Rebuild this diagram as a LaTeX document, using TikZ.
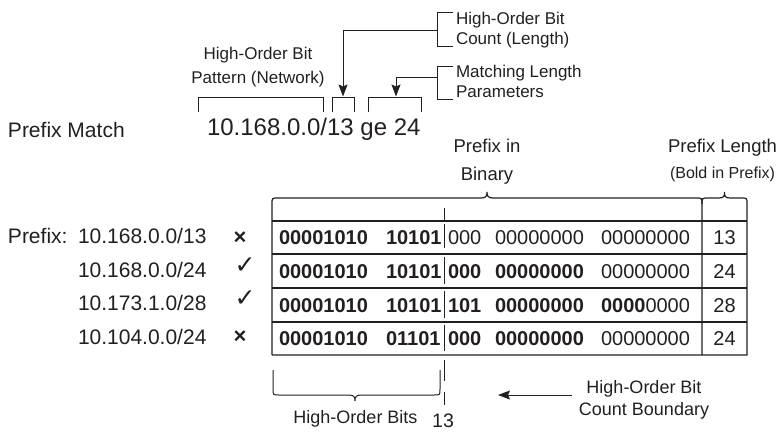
\documentclass[tikz,border=0pt]{standalone}
\usepackage{fontspec}
\setmainfont{Liberation Sans}
\newfontfamily\symfont{DejaVu Sans}
\usetikzlibrary{arrows.meta}
\definecolor{ink}{RGB}{35,31,32}
\begin{document}
\begin{tikzpicture}[x=1pt,y=-1pt,
  every node/.style={inner sep=0pt, outer sep=0pt, text=ink},
  ann/.style={font=\fontsize{17}{20}\selectfont},
  lbl/.style={font=\fontsize{21}{25}\selectfont, anchor=base west},
  cellb/.style={font=\fontsize{20}{24}\selectfont\bfseries, anchor=base west},
  cellr/.style={font=\fontsize{20}{24}\selectfont, anchor=base west},
  num/.style={font=\fontsize{20}{24}\selectfont, anchor=base},
  ln/.style={draw=ink, line width=1pt},
  tbl/.style={draw=ink, line width=1.2pt},
  arr/.style={draw=ink, line width=1pt, -{Stealth[length=12pt,width=9pt,inset=2pt]}},
  xmark/.style={font=\fontsize{22}{22}\selectfont\bfseries},
  cmark/.style={font=\symfont\fontsize{25}{25}\selectfont},
]
\useasboundingbox (0,0) rectangle (778,432);

% ---- top annotations ----
\node[ann, align=center, anchor=north, font=\fontsize{17}{24}\selectfont] (pat) at (258,47.6) {High-Order Bit\\Pattern (Network)};
\node[ann, align=left, anchor=north west] (hobc) at (456,12.6) {High-Order Bit\\Count (Length)};
\node[ann, align=left, anchor=north west] (mlp) at (456,65.6) {Matching Length\\Parameters};

\draw[ln] (453,12.5) -- (437,12.5) -- (437,46) -- (453,46);
\draw[ln] (453,66) -- (437,66) -- (437,99) -- (453,99);
\coordinate (b1) at (437,30);
\coordinate (b2) at (437,77);
\coordinate (t1) at (343,96.5);
\coordinate (t2) at (396,96.5);
\draw[arr] (b1) -| (t1);
\draw[arr] (b2) -| (t2);

% brackets over the command
\draw[ln] (198,112) -- (198,97.5) -- (323,97.5) -- (323,112);
\draw[ln] (332,112) -- (332,97.5) -- (354,97.5) -- (354,112);
\draw[ln] (368,112) -- (368,97.5) -- (421,97.5) -- (421,112);

\node[lbl] (pm) at (8,137) {Prefix Match};
\node[font=\fontsize{24}{28}\selectfont, anchor=base west] (cmd) at (207,135) {10.168.0.0/13 ge 24};

% ---- headings over table ----
\node[align=center, anchor=north, font=\fontsize{18.5}{27.7}\selectfont] (pib) at (487,139) {Prefix in\\Binary};
\node[anchor=base, font=\fontsize{18.5}{22}\selectfont] (pl) at (722.5,152.3) {Prefix Length};
\node[anchor=base, font=\fontsize{16}{19}\selectfont] (bip) at (722.5,178) {(Bold in Prefix)};

% ---- table ----
\draw[tbl] (272,355) -- (272,204) .. controls (272,198) .. (278,198) -- (481,198)
  .. controls (486,198) and (487,196) .. (487,192)
  .. controls (487,196) and (488,198) .. (493,198) -- (696,198)
  .. controls (702,198) .. (702,204) -- (702,355);
\draw[tbl] (702,204) .. controls (702,198) .. (708,198) -- (719,198)
  .. controls (724,198) and (724.5,196) .. (724.5,192)
  .. controls (724.5,196) and (725,198) .. (730,198) -- (741,198)
  .. controls (747,198) .. (747,204) -- (747,355) -- (272,355);
\foreach \yy in {221,254,288,322} \draw[tbl] (272,\yy) -- (747,\yy);

% boundary marks
\draw[ln] (444,208) -- (444,221);
\draw[ln] (444,224) -- (444,248);
\draw[ln] (444,257) -- (444,284);
\draw[ln] (444,291) -- (444,318);
\draw[ln] (444,325) -- (444,351);
\draw[ln] (444,360) -- (444,381);
\draw[ln] (444,392) -- (444,405);

% row 1
\node[cellb] (r1a) at (279,244.7) {00001010};
\node[cellb] (r1b) at (386,244.7) {10101};
\node[cellr] (r1c) at (448,244.7) {000};
\node[cellr] (r1d) at (495,244.7) {00000000};
\node[cellr] (r1e) at (601,244.7) {00000000};
\node[num]   (r1n) at (724.5,244.7) {13};
% row 2
\node[cellb] (r2a) at (279,278.2) {00001010};
\node[cellb] (r2b) at (386,278.2) {10101};
\node[cellb] (r2c) at (448,278.2) {000};
\node[cellb] (r2d) at (495,278.2) {00000000};
\node[cellr] (r2e) at (601,278.2) {00000000};
\node[num]   (r2n) at (724.5,278.2) {24};
% row 3
\node[cellb] (r3a) at (279,312.2) {00001010};
\node[cellb] (r3b) at (386,312.2) {10101};
\node[cellb] (r3c) at (448,312.2) {101};
\node[cellb] (r3d) at (495,312.2) {00000000};
\node[cellr] (r3e) at (601,312.2) {\textbf{0000}0000};
\node[num]   (r3n) at (724.5,312.2) {28};
% row 4
\node[cellb] (r4a) at (279,345.7) {00001010};
\node[cellb] (r4b) at (386,345.7) {01101};
\node[cellb] (r4c) at (448,345.7) {000};
\node[cellb] (r4d) at (495,345.7) {00000000};
\node[cellr] (r4e) at (601,345.7) {00000000};
\node[num]   (r4n) at (724.5,345.7) {24};

% ---- left labels ----
\node[lbl] (pfx) at (8,243.5) {Prefix:};
\node[lbl] (p1) at (78,243.5) {10.168.0.0/13};
\node[lbl] (p2) at (78,277) {10.168.0.0/24};
\node[lbl] (p3) at (78,310.5) {10.173.1.0/28};
\node[lbl] (p4) at (78,344) {10.104.0.0/24};
\node[xmark] (m1) at (240,238) {×};
\node[cmark] (m2) at (245,266) {✓};
\node[cmark] (m3) at (245,299) {✓};
\node[xmark] (m4) at (240,337) {×};

% ---- bottom ----
\draw[ln] (273,370) -- (273,389) .. controls (273,395) .. (279,395) -- (349,395)
  .. controls (354,395) and (355,397) .. (355,401)
  .. controls (355,397) and (356,395) .. (361,395) -- (434,395)
  .. controls (440,395) .. (440,389) -- (440,370);
\node[anchor=base, font=\fontsize{18}{22}\selectfont] (hob) at (355.5,423.5) {High-Order Bits};
\node[anchor=base, font=\fontsize{19.5}{22}\selectfont] (n13) at (443,427) {13};
\node[align=center, anchor=north, font=\fontsize{18}{22}\selectfont] (hcb) at (644,380) {High-Order Bit\\Count Boundary};
\coordinate (as) at (572,395);
\coordinate (ae) at (498,395);
\draw[arr] (as) -- (ae);
\end{tikzpicture}
\end{document}
